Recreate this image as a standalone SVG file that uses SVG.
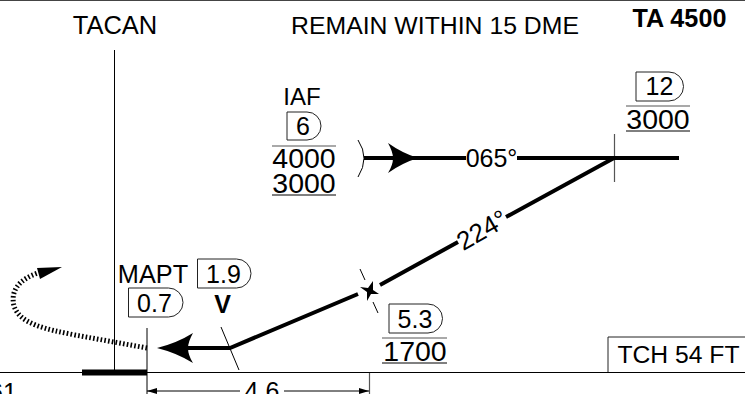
<svg xmlns="http://www.w3.org/2000/svg" width="745" height="394" viewBox="0 0 745 394">
<style>
text{font-family:"Liberation Sans",Arial,sans-serif;fill:#000;font-size:25px;text-anchor:middle}
.alt{font-size:28.500px}
.b{font-weight:bold}
.t{fill:none;stroke:#000;stroke-width:1}
.g{fill:none;stroke:#555;stroke-width:1.200}
.c{fill:#fff;stroke:#222;stroke-width:1}
.h{fill:none;stroke:#000;stroke-width:4}
</style>
<rect width="745" height="394" fill="#fff"/>
<path d="M0 0.500H745" fill="none" stroke="#444" stroke-width="1"/>
<g id="header">
<text x="115" y="34" style="font-size:25.500px">TACAN</text>
<text x="435" y="34" style="font-size:24.800px">REMAIN WITHIN 15 DME</text>
<text x="679.500" y="27" class="b" style="font-size:25.200px">TA 4500</text>
</g>
<g id="connectors">
<path class="t" d="M114.500 50V372M147 328V394M221 327L239 370M0 372.500H745"/>
<path class="g" d="M369.500 373V394M614.500 134V182"/>
<path class="t" d="M358 140Q370 158 358 177M360 269L365 280M373 302L378 313"/>
<path class="h" d="M364 158H466M517 158H679M614 158L506 217M458 242L380 285M358 294L230 348H188"/>
<path d="M157 348Q177 343 193 333Q188 342 188 348Q188 355 193 363Q177 353 157 348Z"/>
<path d="M418 158Q402 153 388 143Q393 152 393 158Q393 165 388 173Q402 163 418 158Z"/>
<path d="M62 267L37 268L40 279Z"/>
<path d="M147 348L75 335C45 329 20 324 14 306C10 290 20 279 38 273" fill="none" stroke="#000" stroke-width="5" stroke-dasharray="1.600 2.200"/>
<path d="M360 287L368 288L373 281L373 290L379 294L371 294L367 301L367 292Z"/>
<path d="M82 372.500H147" fill="none" stroke="#000" stroke-width="6"/>
<path class="t" d="M147 391H240M284 391H369"/>
<path d="M147 391L157 388V394ZM369 391L359 388V394Z"/>
</g>
<g id="iaf">
<text x="302" y="105" style="font-size:24px">IAF</text>
<path class="c" d="M287 112H307A14 14 0 0 1 307 140H287Z"/>
<text x="303" y="135">6</text>
<path class="g" d="M272 146H336"/>
<path class="t" d="M272 195H336"/>
<text x="304" y="168" class="alt">4000</text>
<text x="304" y="193" class="alt">3000</text>
</g>
<g id="fix-12">
<path class="c" d="M636 72H669A14.500 14.500 0 0 1 669 101H636Z"/>
<text x="659.500" y="95">12</text>
<path class="g" d="M626 106H690"/>
<path class="t" d="M626 131H690"/>
<text x="658" y="129" class="alt">3000</text>
</g>
<g id="fix-53">
<path class="c" d="M389 304H428A14.500 14.500 0 0 1 428 333H389Z"/>
<text x="415" y="328">5.3</text>
<path class="g" d="M382 338H447"/>
<path class="t" d="M382 363H447"/>
<text x="415" y="361" class="alt">1700</text>
</g>
<g id="course-065"><text x="491.500" y="167">065°</text></g>
<g id="course-224"><text transform="translate(482 230) rotate(-30)" y="9" style="font-size:26px">224°</text></g>
<g id="mapt">
<text x="153" y="283" style="font-size:25.300px">MAPT</text>
<path class="c" d="M197.500 259H236.500A14.500 14.500 0 0 1 236.500 288H197.500Z"/>
<text x="223.500" y="283">1.9</text>
<path class="c" d="M128.500 288H168.500A14.500 14.500 0 0 1 168.500 317H128.500Z"/>
<text x="154.500" y="312">0.7</text>
<text x="222.500" y="313" class="b">V</text>
</g>
<g id="tch">
<path class="c" d="M608 372V337H745"/>
<text x="678.500" y="363" style="font-size:24.700px">TCH 54 FT</text>
</g>
<g id="bottom">
<text x="262" y="400">4.6</text>
<text x="3" y="401">61</text>
</g>
</svg>
